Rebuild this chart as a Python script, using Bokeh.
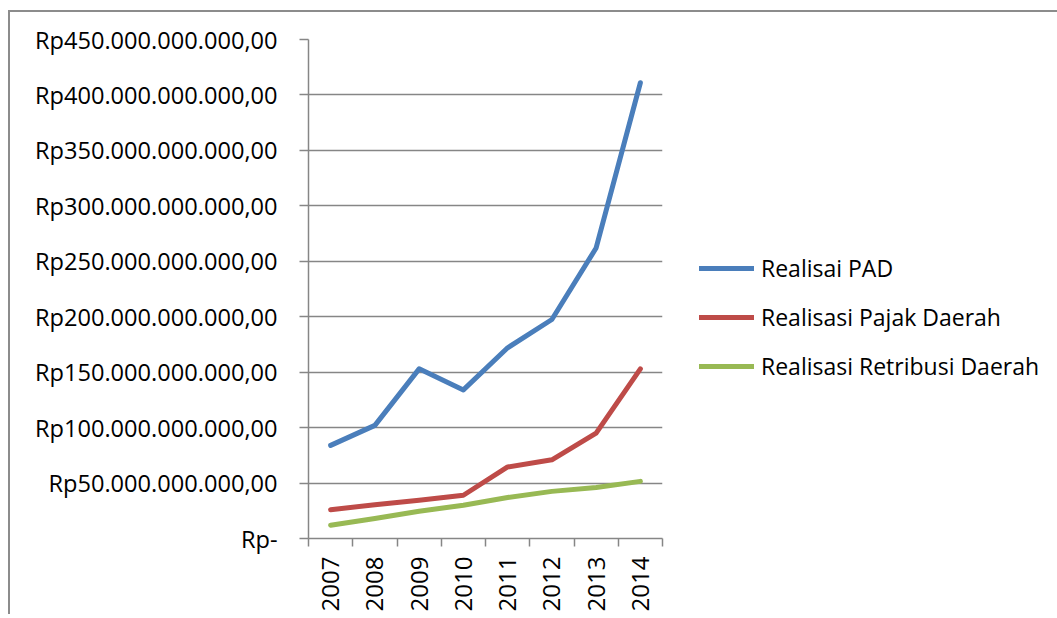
import math
from bokeh.plotting import figure
from bokeh.models import FixedTicker, Range1d, Legend, LegendItem
from bokeh.embed import file_html
from bokeh.resources import INLINE

years = ["2007", "2008", "2009", "2010", "2011", "2012", "2013", "2014"]
pad = [84, 102, 153, 134, 172, 197.5, 262, 411]
pajak = [26, 30.5, 34.5, 39, 64.5, 71, 95, 153]
retribusi = [12, 18, 24.5, 30, 37, 42.5, 46, 51.5]
series_names = ["Realisai PAD", "Realisasi Pajak Daerah", "Realisasi Retribusi Daerah"]
colors = ["#4A7EBB", "#BE4B48", "#98B954"]
y_ticks = [0, 50, 100, 150, 200, 250, 300, 350, 400, 450]
y_labels = ["Rp-", "Rp50.000.000.000,00", "Rp100.000.000.000,00", "Rp150.000.000.000,00",
            "Rp200.000.000.000,00", "Rp250.000.000.000,00", "Rp300.000.000.000,00",
            "Rp350.000.000.000,00", "Rp400.000.000.000,00", "Rp450.000.000.000,00"]

FONT = "Open Sans"
GRID = "#868686"

xs = [i + 0.5 for i in range(len(years))]

p = figure(width=1040, height=600, output_backend="svg", toolbar_location=None,
           x_range=Range1d(0, len(years)), y_range=Range1d(0, 450),
           frame_width=354, frame_height=499,
           min_border_left=298, min_border_top=27, min_border_right=30, min_border_bottom=60)
p.outline_line_color = None
p.background_fill_color = "white"
p.border_fill_color = "white"
p.styles = {"margin-left": "8px", "margin-top": "10px",
            "border-left": "2px solid #8c8c8c", "border-top": "2px solid #8c8c8c"}

renderers = []
for vals, c in zip([pad, pajak, retribusi], colors):
    r = p.line(xs, vals, line_color=c, line_width=5, line_cap="round", line_join="round")
    renderers.append(r)

# x axis
p.xaxis.ticker = FixedTicker(ticks=xs, minor_ticks=list(range(len(years) + 1)))
p.xaxis.major_label_overrides = {x: y for x, y in zip(xs, years)}
p.xaxis.major_label_orientation = math.pi / 2
p.xaxis.major_tick_out = 0
p.xaxis.major_tick_in = 0
p.xaxis.minor_tick_out = 8
p.xaxis.minor_tick_in = 0
p.xaxis.minor_tick_line_color = GRID
p.xaxis.minor_tick_line_width = 1.5
p.xaxis.major_label_standoff = 10
p.xaxis.major_label_text_font = FONT
p.xaxis.major_label_text_font_size = "24px"
p.xaxis.major_label_text_color = "black"
p.xaxis.axis_line_color = GRID
p.xaxis.axis_line_width = 1.5

# y axis
p.yaxis.ticker = FixedTicker(ticks=y_ticks, minor_ticks=[])
p.yaxis.major_label_overrides = {t: l for t, l in zip(y_ticks, y_labels)}
p.yaxis.major_tick_out = 9
p.yaxis.major_tick_in = 0
p.yaxis.major_tick_line_color = GRID
p.yaxis.major_tick_line_width = 1.5
p.yaxis.major_label_standoff = 22
p.yaxis.major_label_text_font = FONT
p.yaxis.major_label_text_font_size = "23.6px"
p.yaxis.major_label_text_color = "black"
p.yaxis.axis_line_color = GRID
p.yaxis.axis_line_width = 1.5

p.xgrid.grid_line_color = None
p.ygrid.grid_line_color = GRID
p.ygrid.grid_line_width = 1.5

legend = Legend(items=[LegendItem(label=n, renderers=[r]) for n, r in zip(series_names, renderers)],
                location=(37, 156), orientation="vertical")
legend.label_text_font = FONT
legend.label_text_font_size = "23px"
legend.label_text_color = "black"
legend.glyph_width = 55
legend.glyph_height = 20
legend.label_height = 20
legend.label_standoff = 7
legend.spacing = 17
legend.padding = 0
legend.margin = 0
legend.border_line_alpha = 0
legend.background_fill_alpha = 0
p.add_layout(legend, "right")

open("out.html", "w").write(file_html(p, INLINE))
